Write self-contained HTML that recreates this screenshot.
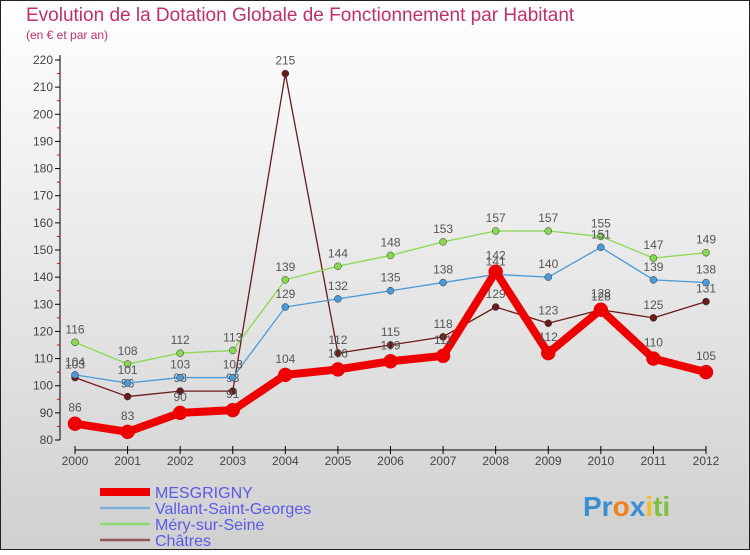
<!DOCTYPE html>
<html><head><meta charset="utf-8"><style>
body{margin:0;width:750px;height:550px;overflow:hidden;font-family:"Liberation Sans",sans-serif}
</style></head><body>
<svg width="750" height="550" xmlns="http://www.w3.org/2000/svg">
<defs><linearGradient id="bg" x1="0" y1="0" x2="0" y2="1"><stop offset="0" stop-color="#ffffff"/><stop offset="1" stop-color="#d0d0d0"/></linearGradient></defs>
<rect x="0" y="0" width="750" height="550" fill="url(#bg)"/>
<rect x="0.5" y="0.5" width="749" height="549" fill="none" stroke="#222"/>
<text x="26" y="21" font-size="19" fill="#c0306a">Evolution de la Dotation Globale de Fonctionnement par Habitant</text>
<text x="26" y="39" font-size="12" fill="#c0306a">(en € et par an)</text>
<g id="axes"></g>
<g id="series"></g>
<g id="legend"></g>
<text x="583" y="516" font-size="28" font-weight="bold"><tspan fill="#3a8fd0">Pr</tspan><tspan fill="#f08020">o</tspan><tspan fill="#3a8fd0">x</tspan><tspan fill="#f0c020">i</tspan><tspan fill="#80c040">ti</tspan></text>
</svg>
<script>
const years=[2000,2001,2002,2003,2004,2005,2006,2007,2008,2009,2010,2011,2012];
const yTicks=[80,90,100,110,120,130,140,150,160,170,180,190,200,210,220];
const mesgrigny=[86,83,90,91,104,106,109,111,142,112,128,110,105];
const vallant=[104,101,103,103,129,132,135,138,141,140,151,139,138];
const mery=[116,108,112,113,139,144,148,153,157,157,155,147,149];
const chatres=[103,96,98,98,215,112,115,118,129,123,128,125,131];
const names=["MESGRIGNY","Vallant-Saint-Georges","Méry-sur-Seine","Châtres"];
const NS="http://www.w3.org/2000/svg";
const X=i=>75+i*(706-75)/(years.length-1);
const Y=v=>440-(v-80)*(380/140);
function mk(t,a,p){const e=document.createElementNS(NS,t);for(const k in a)e.setAttribute(k,a[k]);p.appendChild(e);return e;}
const ax=document.getElementById('axes');
const yl=mk('line',{x1:60,y1:55,x2:60,y2:440,stroke:'#000'},ax);


const xl=mk('line',{x1:75,y1:450,x2:706,y2:450,stroke:'#000'},ax);


yTicks.forEach(v=>{
 mk('line',{x1:55,y1:Y(v),x2:60,y2:Y(v),stroke:'#000'},ax);
 if(v<220)mk('line',{x1:57,y1:Y(v+5),x2:60,y2:Y(v+5),stroke:'#e00'},ax);
 const t=mk('text',{x:53,y:Y(v)+4,'font-size':12,fill:'#444','text-anchor':'end'},ax);t.textContent=v;
 
 
});
years.forEach((y,i)=>{
 mk('line',{x1:X(i),y1:446,x2:X(i),y2:454,stroke:'#000'},ax);
 const t=mk('text',{x:X(i),y:465,'font-size':12,fill:'#444','text-anchor':'middle'},ax);t.textContent=y;
 
 
});
const sg=document.getElementById('series');
const specs=[[chatres,'#6b1a1a',1.3,3.5,3],[mery,'#88d850',1.3,3.5,2],[vallant,'#4a9ad8',1.3,3.5,1],[mesgrigny,'#ee0000',8,7,0]];
specs.forEach(([d,c,w,r,idx])=>{
 const g=mk('g',{},sg);
 
 
 const l=mk('polyline',{points:d.map((v,i)=>X(i)+','+Y(v)).join(' '),fill:'none',stroke:c,'stroke-width':w,'stroke-linejoin':'round'},g);
 
 
 d.forEach((v,i)=>{
  const p=mk('circle',{cx:X(i),cy:Y(v),r:r,fill:c,stroke:idx==0?'#d00':'#333','stroke-width':0.5},g);
  
  
  const t=mk('text',{x:X(i),y:Y(v)-(idx==0?12:9),'font-size':12,fill:'#555','text-anchor':'middle'},g);t.textContent=v;
  
  
 });
});
const lg=document.getElementById('legend');
const lc=['#ee0000','#80b0d8','#90d870','#905858'],lw=[8,2.5,2.5,2.5];
names.forEach((n,i)=>{
 const y=492+i*16;
 const g=mk('g',{},lg);
 
 
 mk('line',{x1:100,y1:y,x2:150,y2:y,stroke:lc[i],'stroke-width':lw[i]},g);
 const t=mk('text',{x:155,y:y+6,'font-size':16,fill:'#5a5ae8'},g);t.textContent=n;
});
</script>
</body></html>
